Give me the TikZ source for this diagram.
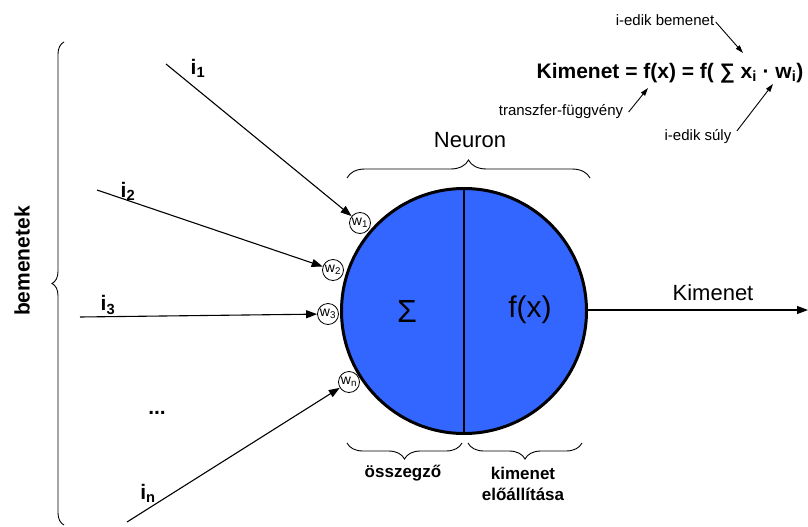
\documentclass[tikz,border=0pt]{standalone}
\usepackage{fontspec}
\setmainfont{Liberation Sans}
\usetikzlibrary{arrows.meta,decorations.pathreplacing}
\definecolor{neuronblue}{RGB}{51,102,255}
\begin{document}
\begin{tikzpicture}[x=1pt,y=-1pt,
  arr/.style={-{Triangle[length=11pt,width=8pt]}, line width=1.1pt},
  sarr/.style={-{Triangle[length=8pt,width=5pt]}, line width=0.9pt},
  wnode/.style={circle, draw, line width=0.8pt, fill=white, minimum size=21pt, inner sep=0pt, font=\fontsize{14}{14}\selectfont},
  brc/.style={decorate, decoration={brace, amplitude=#1}, line width=0.9pt},
  ilab/.style={font=\fontsize{21}{22}\selectfont\bfseries},
  biglab/.style={font=\fontsize{22}{24}\selectfont},
  smalllab/.style={font=\fontsize{15}{17}\selectfont},
  botlab/.style={font=\fontsize{17}{21}\selectfont\bfseries, align=center}
]
\useasboundingbox (0,0) rectangle (808,527);

% neuron body
\node[circle, draw, line width=3pt, fill=neuronblue, minimum size=245pt, inner sep=0pt] (neuron) at (464,311) {};
\draw[line width=2.5pt] (neuron.north) -- (neuron.south);
\node[font=\fontsize{32}{34}\selectfont] (sum) at (407,311) {Σ};
\node[font=\fontsize{30}{32}\selectfont] (fx) at (530,310) {f(x)};

% weights
\node[wnode] (w1) at (360,223) {w\textsubscript{1}};
\node[wnode] (w2) at (333,270) {w\textsubscript{2}};
\node[wnode] (w3) at (328,314) {w\textsubscript{3}};
\node[wnode] (wn) at (349,382) {w\textsubscript{n}};

% inputs
\coordinate (s1) at (166,64);
\coordinate (s2) at (97,190);
\coordinate (s3) at (80,317);
\coordinate (sn) at (127,522);
\draw[arr] (s1) -- (w1);
\draw[arr] (s2) -- (w2);
\draw[arr] (s3) -- (w3);
\draw[arr] (sn) -- (wn);
\node[ilab] (i1) at (198,68) {i\textsubscript{1}};
\node[ilab] (i2) at (128,191) {i\textsubscript{2}};
\node[ilab] (i3) at (108,305) {i\textsubscript{3}};
\node[ilab] (in) at (148,493) {i\textsubscript{n}};
\node[ilab] (dots) at (157,413) {...};

% left brace
\draw[brc=12pt] (64,525) -- (64,42);
\node[font=\fontsize{21}{24}\selectfont\bfseries, rotate=90] (bem) at (22,261) {bemenetek};

% neuron brace
\draw[brc=18pt] (347,178) -- (590,178);
\node[biglab] (neurlab) at (470,140) {Neuron};

% bottom braces
\draw[brc=16pt] (462,443) -- (347,443);
\draw[brc=16pt] (582,443) -- (468,443);
\node[botlab] (osz) at (403,473) {összegző};
\node[botlab] (kim) at (523,484) {kimenet\\előállítása};

% output
\coordinate (outend) at (808,310);
\draw[arr] (neuron.east |- outend) -- (outend);
\node[biglab] (outlab) at (713,293) {Kimenet};

% formula
\node[font=\fontsize{21}{24}\selectfont\bfseries] (formula) at (670,73) {Kimenet = f(x) = f( ∑ x\textsubscript{i} · w\textsubscript{i})};
\node[smalllab] (bemlab) at (665,20) {i-edik bemenet};
\node[smalllab] (trlab) at (561,112) {transzfer-függvény};
\node[smalllab] (sulylab) at (698,137) {i-edik súly};
\coordinate (ta) at (743,53);
\coordinate (tb) at (648,88);
\coordinate (tc) at (773,84);
\draw[sarr] (bemlab.east) ++(-2,2) -- (ta);
\draw[sarr] (trlab.east) ++(2,0) -- (tb);
\draw[sarr] (sulylab.east) ++(2,-6) -- (tc);
\end{tikzpicture}
\end{document}
